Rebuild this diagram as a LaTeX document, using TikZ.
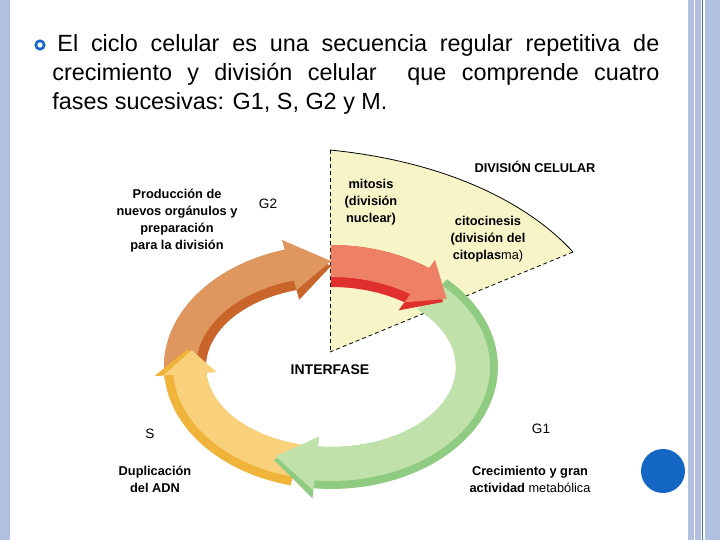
\documentclass[tikz,border=0pt]{standalone}
\usepackage{fontspec}
\setmainfont{Liberation Sans}
\begin{document}
\begin{tikzpicture}[x=0.5pt,y=-0.5pt]
\definecolor{stripL}{HTML}{B0C0DE}
\definecolor{stripD}{HTML}{4A6DB8}
\definecolor{dotB}{HTML}{1466C4}
\definecolor{sectF}{HTML}{F7F4C8}
\definecolor{orL}{HTML}{E0975F}\definecolor{orD}{HTML}{C9652B}
\definecolor{reL}{HTML}{EE8066}\definecolor{reD}{HTML}{E0302E}
\definecolor{grL}{HTML}{C0E2AA}\definecolor{grD}{HTML}{8FCC82}
\definecolor{yeL}{HTML}{F9D07C}\definecolor{yeD}{HTML}{F0B43A}
\tikzset{lab/.style={font=\bfseries\fontsize{6.4}{8.5}\selectfont,align=center,inner sep=0pt},
 phase/.style={font=\fontsize{6.8}{8}\selectfont,inner sep=0pt}}
\newcommand\seg[6]{\fill[#1] plot[domain=#2:#6,samples=40] ({331+(#5+45)*cos(\x)},{367-#5*sin(\x)}) -- ({331+(#5+55)*cos(#6)},{367-(#5+10)*sin(#6)}) -- ({331+((#4+#5)/2+45)*cos(#3)},{367-((#4+#5)/2)*sin(#3)}) -- ({331+(#4+35)*cos(#6)},{367-(#4-10)*sin(#6)}) -- plot[domain=#6:#2,samples=40] ({331+(#4+45)*cos(\x)},{367-#4*sin(\x)}) -- cycle;}
\useasboundingbox (0,0) rectangle (720,540);
\fill[white] (0,0) rectangle (720,540);
% borders
\fill[stripL] (0,0) rectangle (10,540);
\fill[stripL] (688,0) rectangle (694,540);
\fill[stripL] (695,0) rectangle (701,540);
\fill[stripD] (702,0) rectangle (703,540);
\fill[stripL] (705,0) rectangle (720,540);
\fill[dotB] (663,471) circle (22);
% header text
\draw[dotB,line width=1.3] (40,45) circle (4.2);
\node[anchor=north west,inner sep=0pt,text width=303.5pt,align=justify,font=\fontsize{11.7}{14.5}\selectfont] (hdr) at (52,34)
 {\hspace*{2.5pt}El ciclo celular es una secuencia regular repetitiva de\linebreak crecimiento y divisi\'on celular\ \ que comprende cuatro\linebreak fases sucesivas: G1, S, G2 y M.\par};
% sector
\fill[sectF] (330,352) -- (330,150) .. controls (450,162) and (530,205) .. (573,252) -- cycle;
\draw[black,line width=0.4] (330,150) .. controls (450,162) and (530,205) .. (573,252);
\draw[dashed,line width=0.4,dash pattern=on 2pt off 1.5pt] (330,150) -- (330,352);
\draw[dashed,line width=0.4,dash pattern=on 2pt off 1.5pt] (573,252) -- (330,352);
% arrows
\seg{orD}{186}{90}{80}{122}{106}
\seg{orL}{186}{90}{90}{122}{106}
\seg{yeD}{-104}{-190}{80}{122}{-176}
\seg{yeL}{-104}{-190}{80}{113}{-176}
\seg{grD}{46}{-113}{80}{122}{-96}
\seg{grL}{46}{-113}{80}{114}{-96}
\seg{reD}{90}{40}{80}{122}{54}
\seg{reL}{90}{40}{90}{122}{54}
% labels
\node[lab] (prod) at (177,221) {Producci\'on de\\nuevos org\'anulos y\\preparaci\'on\\para la divisi\'on};
\node[phase] (g2) at (268,204) {G2};
\node[lab] (div) at (535,167) {DIVISI\'ON CELULAR};
\node[lab] (mit) at (371,202) {mitosis\\(divisi\'on\\nuclear)};
\node[lab] (cito) at (488,239) {citocinesis\\(divisi\'on del\\citoplas{\mdseries ma)}};
\node[lab,font=\bfseries\fontsize{7}{8}\selectfont] (inter) at (330,370) {INTERFASE};
\node[phase] (s) at (150,434) {S};
\node[phase] (g1) at (541,429) {G1};
\node[lab] (dup) at (155,479) {Duplicaci\'on\\del ADN};
\node[lab] (crec) at (530,479) {Crecimiento y gran\\actividad {\mdseries metab\'olica}};
\end{tikzpicture}
\end{document}
